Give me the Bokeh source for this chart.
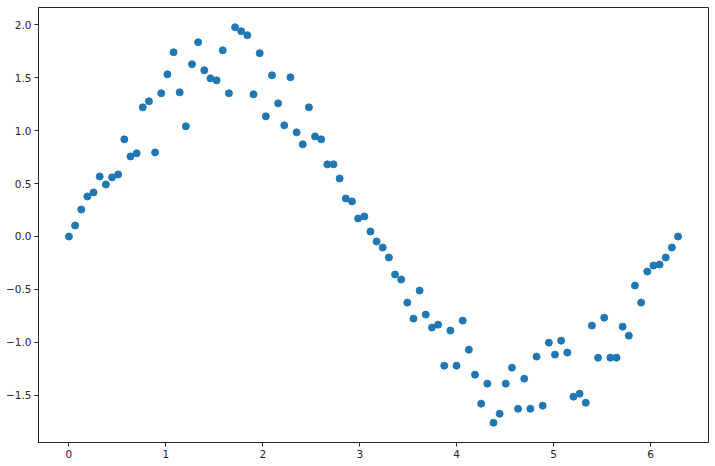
import numpy as np
from bokeh.plotting import figure
from bokeh.models import Range1d, FixedTicker, CustomJSTickFormatter
from bokeh.embed import file_html
from bokeh.resources import INLINE

n_points = 100
x_max = 2 * np.pi
x_vals = [i * x_max / (n_points - 1) for i in range(n_points)]

y_vals = [
    0.000, 0.104, 0.255, 0.378, 0.416, 0.567, 0.491, 0.558, 0.586, 0.917,
    0.756, 0.785, 1.219, 1.276, 0.794, 1.352, 1.531, 1.739, 1.361, 1.040,
    1.626, 1.834, 1.569, 1.493, 1.474, 1.758, 1.352, 1.975, 1.938, 1.900,
    1.342, 1.730, 1.134, 1.522, 1.257, 1.049, 1.503, 0.983, 0.870, 1.219,
    0.945, 0.917, 0.681, 0.681, 0.548, 0.359, 0.331, 0.170, 0.189, 0.047,
    -0.047, -0.104, -0.198, -0.359, -0.406, -0.624, -0.775, -0.510, -0.737, -0.860,
    -0.832, -1.219, -0.888, -1.219, -0.794, -1.068, -1.304, -1.578, -1.389, -1.758,
    -1.673, -1.389, -1.238, -1.626, -1.342, -1.626, -1.134, -1.597, -1.002, -1.115,
    -0.983, -1.096, -1.512, -1.484, -1.569, -0.841, -1.144, -0.766, -1.144, -1.144,
    -0.851, -0.936, -0.463, -0.624, -0.331, -0.274, -0.265, -0.198, -0.104, 0.000,
]

x_ticks = [0, 1, 2, 3, 4, 5, 6]
y_ticks = [-1.5, -1.0, -0.5, 0.0, 0.5, 1.0, 1.5, 2.0]

xr = max(x_vals) - min(x_vals)
yr = max(y_vals) - min(y_vals)

p = figure(
    output_backend="svg", toolbar_location=None,
    frame_width=670, frame_height=435,
    x_range=Range1d(min(x_vals) - 0.05 * xr, max(x_vals) + 0.05 * xr),
    y_range=Range1d(min(y_vals) - 0.05 * yr, max(y_vals) + 0.05 * yr),
    min_border_left=38, min_border_right=7, min_border_top=7, min_border_bottom=24,
)
p.grid.visible = False
p.outline_line_color = "#262626"
p.outline_line_width = 1
p.background_fill_color = "white"
p.border_fill_color = "white"

p.scatter(x_vals, y_vals, size=7, color="#1f77b4", line_color="#1f77b4")

for ax in (p.xaxis[0], p.yaxis[0]):
    ax.axis_line_color = "#262626"
    ax.major_tick_line_color = "#262626"
    ax.major_tick_in = 0
    ax.major_tick_out = 4
    ax.minor_tick_line_color = None
    ax.major_label_text_font = "DejaVu Sans"
    ax.major_label_text_font_size = "10.5px"
    ax.major_label_text_color = "#262626"
    ax.major_label_standoff = 3

p.xaxis[0].ticker = FixedTicker(ticks=x_ticks)
p.yaxis[0].ticker = FixedTicker(ticks=y_ticks)
p.xaxis[0].formatter = CustomJSTickFormatter(code="return tick.toFixed(0).replace('-', '\u2212');")
p.yaxis[0].formatter = CustomJSTickFormatter(code="return tick.toFixed(1).replace('-', '\u2212');")

open("out.html", "w").write(file_html(p, INLINE))
